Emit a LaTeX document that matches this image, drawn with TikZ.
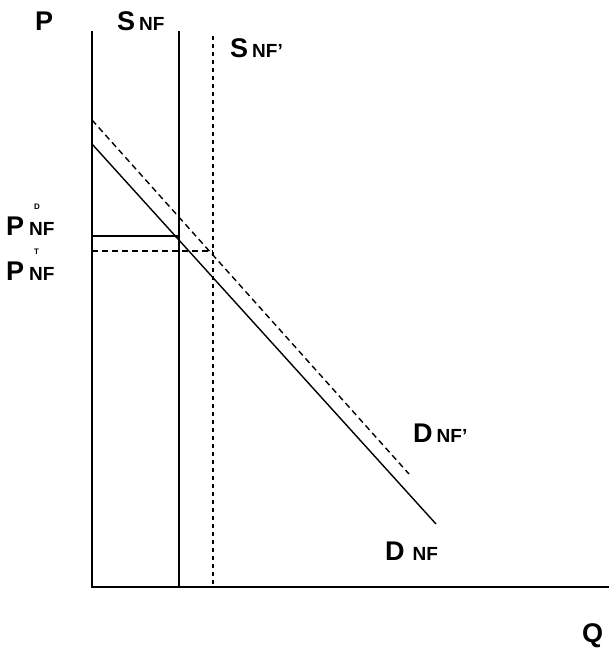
\documentclass[tikz,border=0pt]{standalone}
\usepackage{fontspec}
\setmainfont{Liberation Sans}
\newcommand{\subnf}[1]{{\fontsize{19}{19}\selectfont #1}}
\newcommand{\tinymark}[1]{\makebox[0pt][l]{\hspace{5pt}\raisebox{26pt}{\fontsize{8}{8}\selectfont #1}}}
\tikzset{
  curve/.style={line width=1.4pt},
  shifted/.style={line width=1.4pt, dash pattern=on 6pt off 4pt},
  shiftsup/.style={line width=1.4pt, dash pattern=on 4pt off 4pt},
  lbl/.style={anchor=base west, inner sep=0pt}
}
\begin{document}
\begin{tikzpicture}[x=1pt, y=-1pt, font=\fontsize{27}{27}\selectfont\bfseries]
    \useasboundingbox[fill=white] (0,0) rectangle (609,653);

    % Axes
    \coordinate (O) at (92,587);
    \coordinate (Ptop) at (92,31);
    \coordinate (Qend) at (609,587);
    \draw[line width=1.6pt] (Ptop)--(O)--(Qend);

    % Supply S_NF (solid) and S_NF' (dotted)
    \coordinate (Stop) at (179,31);
    \coordinate (Sbot) at (179,587);
    \coordinate (Sptop) at (213,36);
    \coordinate (Spbot) at (213,587);
    \draw[curve] (Stop)--(Sbot);
    \draw[shiftsup] (Sptop)--(Spbot);

    % Demand D_NF (solid) and D_NF' (dashed)
    \coordinate (Dstart) at (92,144);
    \coordinate (Dend) at (436,524);
    \coordinate (Dpstart) at (92,120);
    \coordinate (Dpend) at (409,474);
    \draw[curve] (Dstart)--(Dend);
    \draw[shifted] (Dpstart)--(Dpend);

    % Price levels
    \coordinate (PD) at (92,236);
    \coordinate (PDx) at (179,236);
    \coordinate (PT) at (92,251);
    \coordinate (PTx) at (213,251);
    \draw[line width=2pt] (PD)--(PDx);
    \draw[shifted] (PT)--(PTx);

    % Labels
    \node[lbl] (labP) at (35,30) {P};
    \node[lbl] (labQ) at (582,642) {Q};
    \node[lbl] (labS) at (117,30) {S\hspace{4pt}\subnf{NF}};
    \node[lbl] (labSp) at (230,57) {S\hspace{4pt}\subnf{NF'}};
    \node[lbl] (labPD) at (6,235) {P\hspace{5pt}\subnf{\tinymark{D}NF}};
    \node[lbl] (labPT) at (6,280) {P\hspace{5pt}\subnf{\tinymark{T}NF}};
    \node[lbl] (labDp) at (413,442) {D\hspace{4pt}\subnf{NF'}};
    \node[lbl] (labD) at (385,560) {D\hspace{8pt}\subnf{NF}};
\end{tikzpicture}
\end{document}
